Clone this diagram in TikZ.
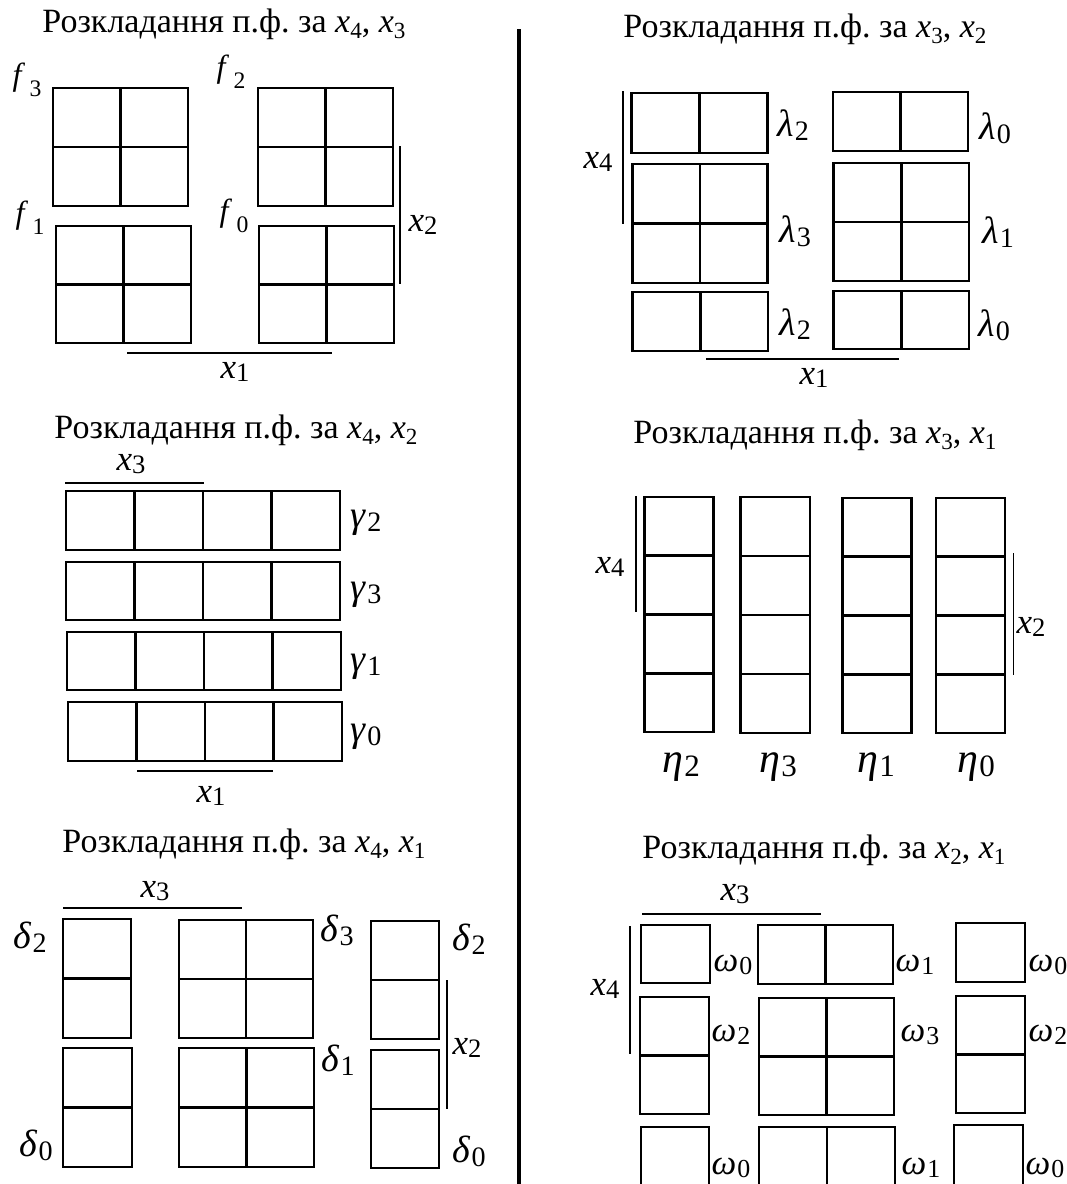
\documentclass[tikz,border=0pt]{standalone}
\usepackage{fontspec}
\usepackage{graphicx}
\setmainfont{Liberation Serif}
\frenchspacing
\newcommand\xt[1]{\textit{x}\raisebox{-0.2em}{\scalebox{0.68}{#1}}}
\newcommand\xv[1]{\textit{x}\raisebox{-0.08em}{\scalebox{0.76}{#1}}}
\newcommand\gv[2]{\textit{#1}\kern0.03em\raisebox{-0.1em}{\scalebox{0.74}{#2}}}
\newcommand\fv[1]{\textit{f}\kern0.14em\raisebox{-0.33em}{\scalebox{0.74}{#1}}}
\newcommand\ttl[2]{Розкладання п.ф. за \xt{#1}, \xt{#2}}
\newcommand\kmap[6]{%
  \draw[cellline] (#1,#2) rectangle (#3,#4);
  \ifnum#5>1 \foreach \i in {2,...,#5}{\draw[cellline] ({#1+(\i-1)*(#3-#1)/#5},#2) -- ({#1+(\i-1)*(#3-#1)/#5},#4);}\fi
  \ifnum#6>1 \foreach \j in {2,...,#6}{\draw[cellline] (#1,{#2+(\j-1)*(#4-#2)/#6}) -- (#3,{#2+(\j-1)*(#4-#2)/#6});}\fi
}
\tikzset{
  cellline/.style={line width=2.6pt, black},
  bar/.style={line width=1.3pt, black},
  divider/.style={line width=4pt, black},
  ttlnode/.style={inner sep=0pt, anchor=base, font=\fontsize{34}{40}\selectfont},
  xl/.style={inner sep=0pt, font=\fontsize{35}{40}\selectfont},
  gl/.style={inner sep=0pt, font=\fontsize{38}{44}\selectfont},
  wl/.style={inner sep=0pt, font=\fontsize{35}{40}\selectfont},
  el/.style={inner sep=0pt, font=\fontsize{42}{48}\selectfont},
  fl/.style={inner sep=0pt, font=\fontsize{32}{38}\selectfont},
}
\begin{document}
\begin{tikzpicture}[x=1pt,y=-1pt]
\useasboundingbox (0,0) rectangle (1067,1184);
\fill[white] (0,0) rectangle (1067,1184);
\clip (0,0) rectangle (1067,1184);
% divider
\coordinate (dtop) at (519,29);
\coordinate (dbot) at (519,1190);
\draw[divider] (dtop) -- (dbot);

% ---------- Panel 1 ----------
\node[ttlnode] (t1) at (224,32) {\ttl{4}{3}};
\kmap{53}{88}{188}{206}{2}{2}
\kmap{258}{88}{393}{206}{2}{2}
\kmap{56}{226}{191}{343}{2}{2}
\kmap{259}{226}{394}{343}{2}{2}
\node[fl] (f3) at (27,80) {\fv{3}};
\node[fl] (f2) at (231,72) {\fv{2}};
\node[fl] (f1) at (30,218) {\fv{1}};
\node[fl] (f0) at (234,216) {\fv{0}};
\draw[bar] (400,146) -- (400,284);
\node[xl] (p1x2) at (423,225) {\xv{2}};
\draw[bar] (127,353) -- (332,353);
\node[xl] (p1x1) at (235,372) {\xv{1}};

% ---------- Panel 2 ----------
\node[ttlnode] (t2) at (805,37) {\ttl{3}{2}};
\kmap{631.5}{93}{767.5}{153}{2}{1}
\kmap{833}{92}{968}{151}{2}{1}
\kmap{632.6}{164}{767.5}{283}{2}{2}
\kmap{833.6}{163}{969}{281}{2}{2}
\kmap{632.6}{292}{768}{351}{2}{1}
\kmap{833.6}{291}{969}{349}{2}{1}
\draw[bar] (623,91) -- (623,224);
\node[xl] (p2x4) at (598,162) {\xv{4}};
\draw[bar] (706,359) -- (899,359);
\node[xl] (p2x1) at (814,378) {\xv{1}};
\node[gl] (l2a) at (793,125) {\gv{λ}{2}};
\node[gl] (l0a) at (995,128) {\gv{λ}{0}};
\node[gl] (l3) at (795,231) {\gv{λ}{3}};
\node[gl] (l1) at (998,232) {\gv{λ}{1}};
\node[gl] (l2b) at (795,324) {\gv{λ}{2}};
\node[gl] (l0b) at (994,325) {\gv{λ}{0}};

% ---------- Panel 3 ----------
\node[ttlnode] (t3) at (236,438) {\ttl{4}{2}};
\node[xl] (p3x3) at (131,464) {\xv{3}};
\draw[bar] (65,483) -- (204,483);
\kmap{66}{491}{340}{550}{4}{1}
\kmap{66}{562}{340}{620}{4}{1}
\kmap{67}{632}{341}{690}{4}{1}
\kmap{68}{702}{342}{761}{4}{1}
\node[gl] (g2) at (366,523) {\gv{γ}{2}};
\node[gl] (g3) at (366,595) {\gv{γ}{3}};
\node[gl] (g1) at (366,667) {\gv{γ}{1}};
\node[gl] (g0) at (366,737) {\gv{γ}{0}};
\draw[bar] (137,771) -- (273,771);
\node[xl] (p3x1) at (211,796) {\xv{1}};

% ---------- Panel 4 ----------
\node[ttlnode] (t4) at (815,443) {\ttl{3}{1}};
\kmap{644.6}{497}{713.5}{732}{1}{4}
\kmap{740.7}{497}{810}{733}{1}{4}
\kmap{842.6}{498}{911.4}{733}{1}{4}
\kmap{936}{498}{1005}{733}{1}{4}
\draw[bar] (636,496) -- (636,612);
\node[xl] (p4x4) at (610,567) {\xv{4}};
\draw[bar] (1013.6,553) -- (1013.6,675);
\node[xl] (p4x2) at (1031,627) {\xv{2}};
\node[el] (e2) at (681,767) {\gv{η}{2}};
\node[el] (e3) at (778,767) {\gv{η}{3}};
\node[el] (e1) at (876,767) {\gv{η}{1}};
\node[el] (e0) at (976,767) {\gv{η}{0}};

% ---------- Panel 5 ----------
\node[ttlnode] (t5) at (244,852) {\ttl{4}{1}};
\node[xl] (p5x3) at (155,891) {\xv{3}};
\draw[bar] (63,908) -- (242,908);
\kmap{63}{919}{131}{1038}{1}{2}
\kmap{63}{1048}{132}{1167}{1}{2}
\kmap{179}{920}{313}{1038}{2}{2}
\kmap{179}{1048}{314}{1167}{2}{2}
\kmap{371}{921}{439}{1039}{1}{2}
\kmap{371}{1050}{439}{1168}{1}{2}
\draw[bar] (447,980) -- (447,1109);
\node[xl] (p5x2) at (467,1048) {\xv{2}};
\node[gl] (d2a) at (30,937) {\gv{δ}{2}};
\node[gl] (d0a) at (36,1145) {\gv{δ}{0}};
\node[gl] (d3) at (337,930) {\gv{δ}{3}};
\node[gl] (d1) at (338,1060) {\gv{δ}{1}};
\node[gl] (d2b) at (469,939) {\gv{δ}{2}};
\node[gl] (d0b) at (469,1151) {\gv{δ}{0}};

% ---------- Panel 6 ----------
\node[ttlnode] (t6) at (824,858) {\ttl{2}{1}};
\node[xl] (p6x3) at (735,894) {\xv{3}};
\draw[bar] (642,914) -- (821,914);
\draw[bar] (630,926) -- (630,1054);
\node[xl] (p6x4) at (605,989) {\xv{4}};
\kmap{641}{925}{710}{983}{1}{1}
\kmap{758}{925}{893}{984}{2}{1}
\kmap{956}{923}{1025}{982}{1}{1}
\kmap{640}{997}{709}{1114}{1}{2}
\kmap{759}{998}{894}{1115}{2}{2}
\kmap{956}{996}{1025}{1113}{1}{2}
\kmap{641}{1127}{709}{1245}{1}{1}
\kmap{759}{1127}{895}{1245}{2}{1}
\kmap{954}{1125}{1023}{1243}{1}{1}
\node[wl] (w0a) at (733,965) {\gv{ω}{0}};
\node[wl] (w1a) at (915,965) {\gv{ω}{1}};
\node[wl] (w0b) at (1048,965) {\gv{ω}{0}};
\node[wl] (w2a) at (731,1035) {\gv{ω}{2}};
\node[wl] (w3) at (920,1035) {\gv{ω}{3}};
\node[wl] (w2b) at (1048,1035) {\gv{ω}{2}};
\node[wl] (w0c) at (731,1168) {\gv{ω}{0}};
\node[wl] (w1b) at (921,1168) {\gv{ω}{1}};
\node[wl] (w0d) at (1045,1168) {\gv{ω}{0}};
\end{tikzpicture}
\end{document}
